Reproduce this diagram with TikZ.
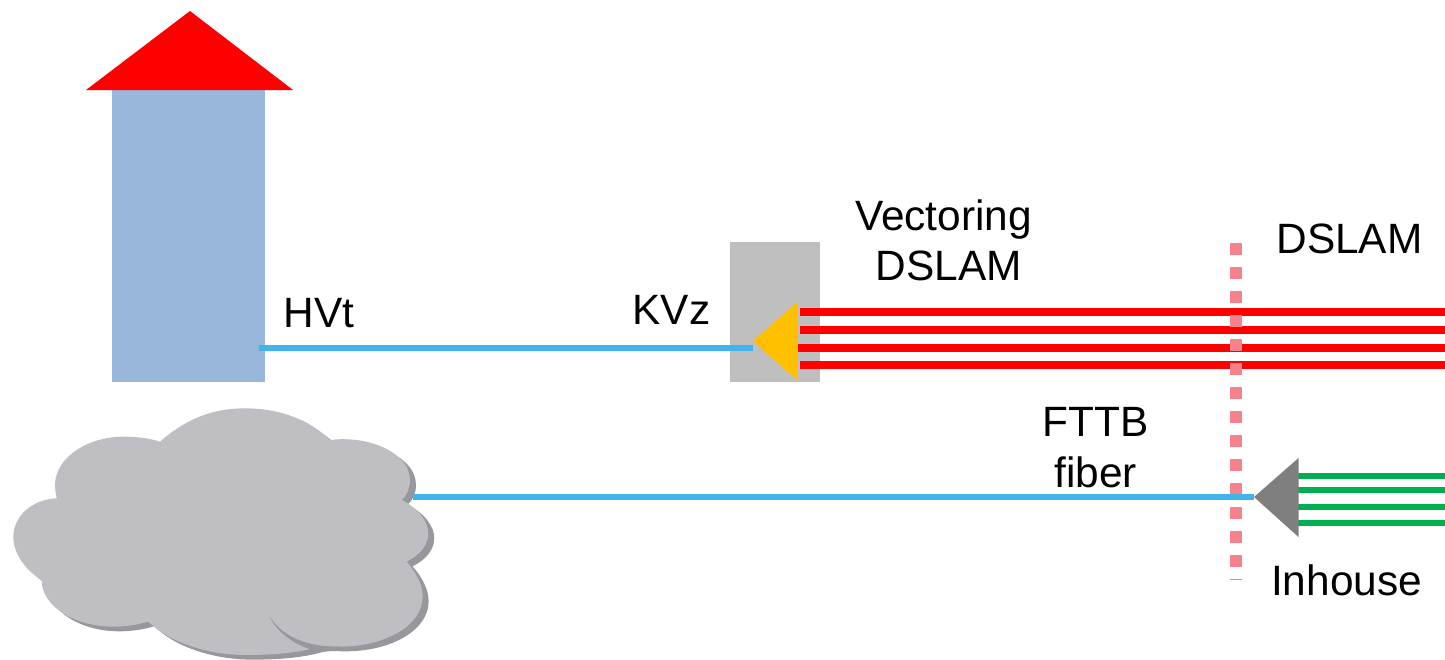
\documentclass[tikz,border=0pt]{standalone}
\usepackage{fontspec}
\setmainfont{Liberation Sans}
\definecolor{wirelblue}{HTML}{41B4EE}
\definecolor{bldblue}{HTML}{99B6DC}
\definecolor{boxgrey}{HTML}{BFBFBF}
\definecolor{cloudgrey}{HTML}{BFBEC3}
\definecolor{cloudshade}{HTML}{97979E}
\definecolor{pinkdot}{HTML}{F6828C}
\definecolor{tri}{HTML}{FFC000}
\definecolor{trigrey}{HTML}{7F7F7F}
\definecolor{wiregreen}{HTML}{00B050}
\tikzset{
  label text/.style={inner sep=0pt,outer sep=0pt,text=black,font=\fontsize{42.4}{50.5}\selectfont,align=center},
  fiber/.style={draw=wirelblue,line width=6pt},
  redpair/.style={draw=red,line width=8pt},
  greenpair/.style={draw=wiregreen,line width=6pt},
  solidbox/.style={draw=none,inner sep=0pt,outer sep=0pt,anchor=north west}
}
\newcommand{\cloudpath}{
  (480,155) .. controls (560,85) and (640,55) .. (735,55)
  .. controls (840,55) and (930,90) .. (990,150)
  .. controls (1110,135) and (1230,190) .. (1230,270)
  .. controls (1230,295) and (1222,315) .. (1205,330)
  .. controls (1255,355) and (1285,395) .. (1285,430)
  .. controls (1285,465) and (1260,495) .. (1220,515)
  .. controls (1250,550) and (1268,585) .. (1268,620)
  .. controls (1268,710) and (1150,770) .. (1020,770)
  .. controls (995,770) and (970,768) .. (950,772)
  .. controls (890,790) and (810,795) .. (740,795)
  .. controls (610,795) and (500,750) .. (445,695)
  .. controls (410,705) and (375,710) .. (340,710)
  .. controls (225,710) and (125,650) .. (125,570)
  .. controls (75,540) and (40,490) .. (40,440)
  .. controls (40,380) and (95,328) .. (170,325)
  .. controls (167,310) and (165,295) .. (165,280)
  .. controls (170,200) and (265,140) .. (370,140)
  .. controls (410,140) and (450,145) .. (480,155) -- cycle}
\begin{document}
\begin{tikzpicture}[x=1pt,y=-1pt]
\useasboundingbox (0,0) rectangle (1445,659);
% cloud
\begin{scope}[shift={(0,390)},x=0.3333pt,y=-0.3333pt]
  \fill[cloudshade,shift={(18,14)}] \cloudpath;
  \fill[cloudgrey] \cloudpath;
  \fill[cloudshade] (808,678) .. controls (850,745) and (930,772) .. (1020,770)
     .. controls (985,778) and (960,782) .. (945,782)
     .. controls (880,765) and (830,725) .. (808,678) -- cycle;
\end{scope}
\coordinate (cloudport) at (413,497);
% building
\node[solidbox,fill=bldblue,minimum width=153pt,minimum height=292pt] (building) at (112,90) {};
\fill[red] (86,90) -- (190,11) -- (293,90) -- cycle;
\coordinate (buildingport) at (259,348);
% KVz box
\node[solidbox,fill=boxgrey,minimum width=90pt,minimum height=140pt] (kvzbox) at (730,242) {};
% red pairs
\coordinate (redA) at (800,312); \coordinate (redAe) at (1445,312);
\coordinate (redB) at (800,329.5); \coordinate (redBe) at (1445,329.5);
\coordinate (redC) at (797.5,347.5); \coordinate (redCe) at (1445,347.5);
\coordinate (redD) at (800,364.5); \coordinate (redDe) at (1445,364.5);
\draw[redpair] (redA) -- (redAe);
\draw[redpair] (redB) -- (redBe);
\draw[redpair] (redC) -- (redCe);
\draw[redpair] (redD) -- (redDe);
% green pairs
\coordinate (grnA) at (1298,475.5); \coordinate (grnAe) at (1445,475.5);
\coordinate (grnB) at (1298,489.5); \coordinate (grnBe) at (1445,489.5);
\coordinate (grnC) at (1298,506.5); \coordinate (grnCe) at (1445,506.5);
\coordinate (grnD) at (1298,522.5); \coordinate (grnDe) at (1445,522.5);
\draw[greenpair] (grnA) -- (grnAe);
\draw[greenpair] (grnB) -- (grnBe);
\draw[greenpair] (grnC) -- (grnCe);
\draw[greenpair] (grnD) -- (grnDe);
% demarcation
\coordinate (demarcTop) at (1236,242.7);
\coordinate (demarcBot) at (1236,580);
\draw[pinkdot,line width=12pt,dash pattern=on 12pt off 12pt] (demarcTop) -- (demarcBot);
% triangles
\coordinate (yellowtip) at (753,341);
\coordinate (greytip) at (1254,497);
\fill[tri] (yellowtip) -- (797.7,301.7) -- (797.7,380.7) -- cycle;
\fill[trigrey] (greytip) -- (1298.5,458) -- (1298.5,537) -- cycle;
% fibers
\coordinate (yellowport) at (753,348);
\draw[fiber] (buildingport) -- (yellowport);
\draw[fiber] (cloudport) -- (greytip);
% labels
\node[label text,anchor=base] (hvt) at (319,327) {HVt};
\node[label text,anchor=base] (kvz) at (671.5,324) {KVz};
\node[label text,anchor=center] (vect) at (949,240.5) {Vectoring\hspace*{11pt}\\DSLAM};
\node[label text,anchor=base] (dslam) at (1349.5,253) {DSLAM};
\node[label text,anchor=center] (fttb) at (1095.5,447.5) {FTTB\\fiber};
\node[label text,anchor=base] (inhouse) at (1346.5,595) {Inhouse};
\end{tikzpicture}
\end{document}
